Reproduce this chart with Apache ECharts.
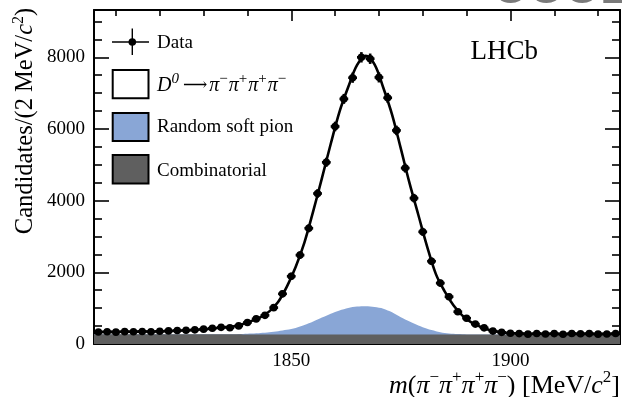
<!DOCTYPE html>
<html>
<head>
<meta charset="utf-8">
<script src="https://cdn.jsdelivr.net/npm/echarts@6/dist/echarts.min.js"></script>
<style>
  html, body { margin: 0; padding: 0; background: #ffffff; }
  #chart { width: 622px; height: 397px; }
</style>
</head>
<body>
<div id="chart"></div>
<script>
// Bin centres of the m(pi- pi+ pi+ pi-) histogram (2 MeV bins)
const massBins = [
  1806, 1808, 1810, 1812, 1814, 1816, 1818, 1820, 1822, 1824,
  1826, 1828, 1830, 1832, 1834, 1836, 1838, 1840, 1842, 1844,
  1846, 1848, 1850, 1852, 1854, 1856, 1858, 1860, 1862, 1864,
  1866, 1868, 1870, 1872, 1874, 1876, 1878, 1880, 1882, 1884,
  1886, 1888, 1890, 1892, 1894, 1896, 1898, 1900, 1902, 1904,
  1906, 1908, 1910, 1912, 1914, 1916, 1918, 1920, 1922, 1924
];
// Candidates per bin
const candidates = [
  335, 340, 330, 345, 340, 350, 340, 355, 365, 375,
  385, 395, 415, 440, 465, 455, 505, 600, 700, 800,
  1015, 1400, 1890, 2480, 3230, 4200, 5070, 6070, 6840, 7430,
  8000, 7960, 7440, 6870, 5960, 4910, 4070, 3130, 2310, 1700,
  1320, 900, 720, 555, 450, 360, 325, 300, 290, 275,
  295, 280, 290, 270, 295, 285, 290, 275, 280, 295
];

// Fit model sampled along the mass axis
const fitMass = [
  1805, 1807, 1809, 1811, 1813, 1815, 1817, 1819, 1821, 1823,
  1825, 1827, 1829, 1831, 1833, 1835, 1837, 1839, 1841, 1843,
  1845, 1847, 1849, 1851, 1853, 1855, 1857, 1859, 1861, 1863,
  1865, 1867, 1869, 1871, 1873, 1875, 1877, 1879, 1881, 1883,
  1885, 1887, 1889, 1891, 1893, 1895, 1897, 1899, 1901, 1903,
  1905, 1907, 1909, 1911, 1913, 1915, 1917, 1919, 1921, 1923,
  1925
];
// Total fit
const fitTotal = [
  335, 336, 338, 340, 342, 345, 348, 352, 358, 366,
  376, 388, 403, 422, 445, 470, 495, 555, 645, 750,
  910, 1170, 1600, 2150, 2830, 3700, 4630, 5580, 6480, 7170,
  7780, 8040, 7800, 7150, 6400, 5450, 4480, 3600, 2720, 1950,
  1470, 1080, 800, 610, 490, 400, 345, 315, 298, 290,
  287, 285, 284, 283, 283, 283, 283, 283, 283, 283,
  283
];
// Random soft pion component
const fitSoftPion = [
  0, 0, 0, 0, 0, 0, 0, 0, 0, 0,
  0, 0, 0, 0, 0, 3, 6, 12, 22, 38,
  60, 90, 130, 180, 260, 360, 470, 580, 670, 740,
  780, 790, 765, 720, 620, 480, 360, 250, 160, 95,
  45, 22, 10, 4, 2, 0, 0, 0, 0, 0,
  0, 0, 0, 0, 0, 0, 0, 0, 0, 0,
  0
];
// Combinatorial background component
const fitCombinatorial = [
  272, 272, 272, 271, 271, 271, 271, 270, 270, 270,
  270, 270, 269, 269, 269, 269, 269, 268, 268, 268,
  268, 268, 267, 267, 267, 267, 267, 266, 266, 266,
  266, 266, 266, 265, 265, 265, 265, 265, 265, 264,
  264, 264, 264, 264, 264, 264, 263, 263, 263, 263,
  263, 263, 263, 262, 262, 262, 262, 262, 262, 262,
  262
];

// Axis ticks
const xMajorTicks = [1850, 1900];
const xMinorTicks = [1810, 1820, 1830, 1840, 1860, 1870, 1880, 1890, 1910, 1920];
const yMajorTicks = [0, 2000, 4000, 6000, 8000];
const yMinorTicks = [500, 1000, 1500, 2500, 3000, 3500, 4500, 5000, 5500, 6500, 7000, 7500, 8500, 9000];

const SERIF = '"Liberation Serif", "Times New Roman", serif';
const blue = '#89a6d6';
const grey = '#5f5f5f';

const chart = echarts.init(document.getElementById('chart'), null, { renderer: 'canvas' });

const plainNumber = (v) => String(v);

function xAxisDef(position, ticks, len, withLabels, withLine) {
  return {
    type: 'value', min: 1805, max: 1925, position: position,
    splitLine: { show: false },
    axisLine: { show: withLine, onZero: false, lineStyle: { color: '#000', width: 2 } },
    axisTick: { show: true, inside: true, length: len, customValues: ticks,
                lineStyle: { color: '#000', width: 1.6 } },
    axisLabel: withLabels
      ? { show: true, customValues: ticks, margin: 8, color: '#000', fontFamily: SERIF, fontSize: 19,
          formatter: plainNumber }
      : { show: false }
  };
}
function yAxisDef(position, ticks, len, withLabels, withLine) {
  return {
    type: 'value', min: 0, max: 9320, position: position,
    splitLine: { show: false },
    axisLine: { show: withLine, onZero: false, lineStyle: { color: '#000', width: 2 } },
    axisTick: { show: true, inside: true, length: len, customValues: ticks,
                lineStyle: { color: '#000', width: 1.6 } },
    axisLabel: withLabels
      ? { show: true, customValues: ticks, margin: 9, color: '#000', fontFamily: SERIF, fontSize: 19,
          formatter: plainNumber }
      : { show: false }
  };
}

const fitPairs = (vals) => fitMass.map((m, i) => [m, vals[i]]);
const softStack = fitMass.map((m, i) => [m, fitCombinatorial[i] + fitSoftPion[i]]);

const legendRich = {
  i: { fontSize: 20, fontFamily: SERIF, fontStyle: 'italic' },
  n: { fontSize: 20, fontFamily: SERIF },
  arr: { fontSize: 17, fontFamily: '"DejaVu Serif", "DejaVu Sans", serif', padding: [0, 2, 0, 4] },
  sup: { fontSize: 15, fontFamily: SERIF, padding: [0, 1, 13, 0] },
  supi: { fontSize: 15, fontFamily: SERIF, fontStyle: 'italic', padding: [0, 0, 13, 0] }
};

const option = {
  animation: false,
  backgroundColor: '#ffffff',
  grid: { left: 94, right: 2, top: 10, bottom: 53, containLabel: false },
  xAxis: [
    xAxisDef('bottom', xMajorTicks, 11, true, true),
    xAxisDef('bottom', xMinorTicks, 6, false, false),
    xAxisDef('top', xMajorTicks, 11, false, true),
    xAxisDef('top', xMinorTicks, 6, false, false)
  ],
  yAxis: [
    yAxisDef('left', yMajorTicks, 15, true, true),
    yAxisDef('left', yMinorTicks, 8, false, false),
    yAxisDef('right', yMajorTicks, 15, false, true),
    yAxisDef('right', yMinorTicks, 8, false, false)
  ],
  series: [
    {
      name: 'Random soft pion', type: 'line', data: softStack,
      smooth: 0.3, showSymbol: false, silent: true,
      lineStyle: { width: 0 }, areaStyle: { color: blue, opacity: 1 }, z: 1
    },
    {
      name: 'Combinatorial', type: 'line', data: fitPairs(fitCombinatorial),
      smooth: 0.3, showSymbol: false, silent: true,
      lineStyle: { width: 0 }, areaStyle: { color: grey, opacity: 1 }, z: 2
    },
    {
      name: 'Fit', type: 'line', data: fitPairs(fitTotal),
      smooth: 0.35, showSymbol: false, silent: true,
      lineStyle: { color: '#000', width: 2.6 }, z: 3
    },
    {
      name: 'Data', type: 'custom', z: 10, silent: true,
      data: massBins.map((m, i) => [m, candidates[i], Math.sqrt(candidates[i])]),
      encode: { x: 0, y: 1 },
      renderItem: function (params, api) {
        const x = api.value(0), y = api.value(1), e = api.value(2);
        const c = api.coord([x, y]);
        const l = api.coord([x - 1, y]);
        const r = api.coord([x + 1, y]);
        const t = api.coord([x, y + e]);
        const b = api.coord([x, y - e]);
        const st = { stroke: '#000', lineWidth: 2.6 };
        return {
          type: 'group',
          children: [
            { type: 'line', shape: { x1: l[0], y1: l[1], x2: r[0], y2: r[1] }, style: st },
            { type: 'line', shape: { x1: t[0], y1: t[1] - 2, x2: b[0], y2: b[1] + 2 }, style: st },
            { type: 'circle', shape: { cx: c[0], cy: c[1], r: 3.8 }, style: { fill: '#000' } }
          ]
        };
      }
    }
  ],
  graphic: [
    // clipped heading glyphs at the top edge
    { type: 'text', left: 493, top: -33, silent: true,
      style: { text: 'OOOL', font: 'bold 46px "Liberation Sans", Arial, sans-serif', fill: '#7a7a7a' } },
    // legend: data marker
    { type: 'line', shape: { x1: 112, y1: 42, x2: 149, y2: 42 }, style: { stroke: '#000', lineWidth: 1.4 } },
    { type: 'line', shape: { x1: 132.3, y1: 28.5, x2: 132.3, y2: 55 }, style: { stroke: '#000', lineWidth: 1.4 } },
    { type: 'circle', shape: { cx: 132.3, cy: 42, r: 3.8 }, style: { fill: '#000' } },
    { type: 'text', x: 157, y: 43, style: { text: 'Data', font: '19px ' + SERIF, fill: '#000', verticalAlign: 'middle' } },
    // legend: signal
    { type: 'rect', shape: { x: 112.7, y: 70, width: 35.8, height: 28.3 }, style: { fill: '#fff', stroke: '#000', lineWidth: 2 } },
    { type: 'text', x: 157, y: 86,
      style: {
        text: '{i|D}{supi|0}{arr|⟶}{i|π}{sup|−}{i|π}{sup|+}{i|π}{sup|+}{i|π}{sup|−}',
        verticalAlign: 'middle', fill: '#000', font: '20px ' + SERIF,
        rich: legendRich
      } },
    // legend: random soft pion
    { type: 'rect', shape: { x: 112.7, y: 113, width: 35.8, height: 28 }, style: { fill: blue, stroke: '#000', lineWidth: 2 } },
    { type: 'text', x: 157, y: 127, style: { text: 'Random soft pion', font: '19px ' + SERIF, fill: '#000', verticalAlign: 'middle' } },
    // legend: combinatorial
    { type: 'rect', shape: { x: 112.7, y: 155, width: 35.8, height: 28.5 }, style: { fill: grey, stroke: '#000', lineWidth: 2 } },
    { type: 'text', x: 157, y: 171, style: { text: 'Combinatorial', font: '19px ' + SERIF, fill: '#000', verticalAlign: 'middle' } },
    // experiment label
    { type: 'text', x: 470.5, y: 52, style: { text: 'LHCb', font: '27px ' + SERIF, fill: '#000', verticalAlign: 'middle' } },
    // y axis title
    { type: 'text', x: 26, y: 121, rotation: Math.PI / 2,
      style: {
        text: '{n|Candidates/(2 MeV/}{i|c}{sup|2}{n|)}',
        align: 'center', verticalAlign: 'middle', fill: '#000', font: '24.5px ' + SERIF,
        rich: {
          n: { fontSize: 24.5, fontFamily: SERIF },
          i: { fontSize: 24.5, fontFamily: SERIF, fontStyle: 'italic' },
          sup: { fontSize: 16, fontFamily: SERIF, padding: [0, 0, 15, 0] }
        }
      } },
    // x axis title
    { type: 'text', x: 620, y: 386,
      style: {
        text: '{i|m}{n|(}{i|π}{sup|−}{i|π}{sup|+}{i|π}{sup|+}{i|π}{sup|−}{n|) [MeV/}{i|c}{sup2|2}{n|]}',
        align: 'right', verticalAlign: 'middle', fill: '#000', font: '26px ' + SERIF,
        rich: {
          n: { fontSize: 26, fontFamily: SERIF },
          i: { fontSize: 26, fontFamily: SERIF, fontStyle: 'italic' },
          sup: { fontSize: 17, fontFamily: SERIF, padding: [0, 0, 16, 0] },
          sup2: { fontSize: 17, fontFamily: SERIF, padding: [0, 0, 16, 0] }
        }
      } }
  ]
};

chart.setOption(option);
</script>
</body>
</html>
